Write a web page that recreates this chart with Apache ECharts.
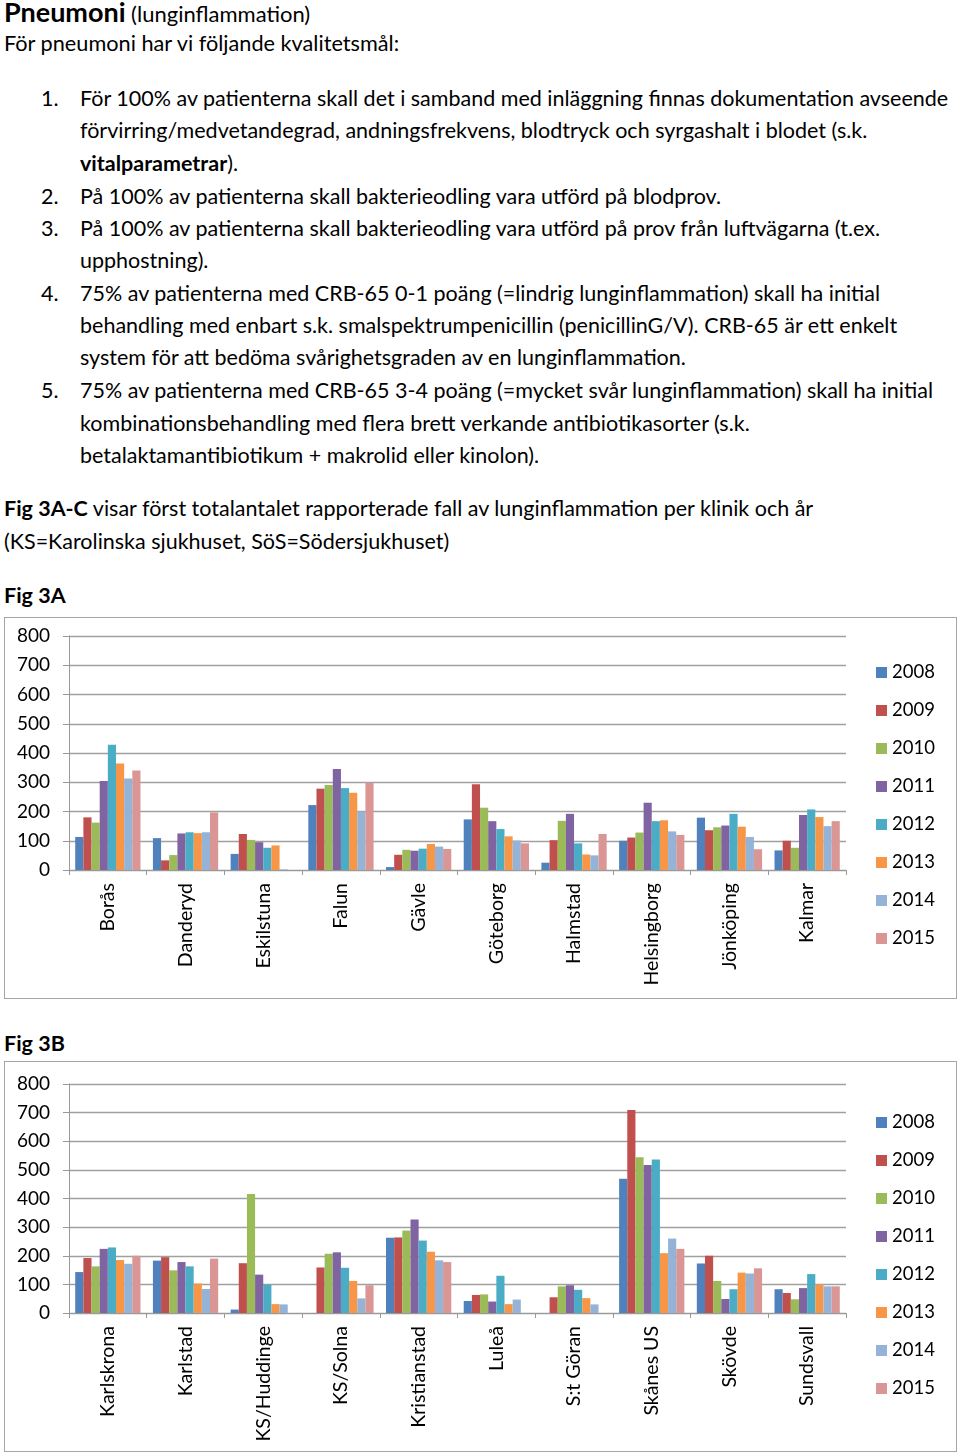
<!DOCTYPE html>
<html><head><meta charset="utf-8">
<script src="https://cdn.jsdelivr.net/npm/echarts@6/dist/echarts.min.js"></script>
<style>
html,body{margin:0;padding:0;background:#fff;}
body{width:960px;height:1456px;position:relative;overflow:hidden;font-family:Lato,"Noto Sans",sans-serif;color:#000;}
.t{position:absolute;white-space:nowrap;line-height:30px;height:30px;font-size:21.5px;}
.n{position:absolute;white-space:nowrap;line-height:30px;height:30px;font-size:21.5px;left:41px;}
b{font-weight:700;}
.box{position:absolute;left:4px;width:951px;border:1.5px solid #a6a6a6;}
</style></head><body>
<div class="t" style="left:4px;top:-3px;"><b style="font-size:27px;">Pneumoni</b> <span style="font-size:22px;">(lunginflammation)</span></div>
<div class="t" style="left:4px;top:28px;font-size:21.7px;">För pneumoni har vi följande kvalitetsmål:</div>

<div class="n" style="top:83px;">1.</div>
<div class="t" style="left:80px;top:83px;">För 100% av patienterna skall det i samband med inläggning finnas dokumentation avseende</div>
<div class="t" style="left:80px;top:115px;">förvirring/medvetandegrad, andningsfrekvens, blodtryck och syrgashalt i blodet (s.k.</div>
<div class="t" style="left:80px;top:148px;"><b>vitalparametrar</b>).</div>
<div class="n" style="top:181px;">2.</div>
<div class="t" style="left:80px;top:181px;">På 100% av patienterna skall bakterieodling vara utförd på blodprov.</div>
<div class="n" style="top:213px;">3.</div>
<div class="t" style="left:80px;top:213px;">På 100% av patienterna skall bakterieodling vara utförd på prov från luftvägarna (t.ex.</div>
<div class="t" style="left:80px;top:245px;">upphostning).</div>
<div class="n" style="top:278px;">4.</div>
<div class="t" style="left:80px;top:278px;">75% av patienterna med CRB-65 0-1 poäng (=lindrig lunginflammation) skall ha initial</div>
<div class="t" style="left:80px;top:310px;">behandling med enbart s.k. smalspektrumpenicillin (penicillinG/V). CRB-65 är ett enkelt</div>
<div class="t" style="left:80px;top:342px;">system för att bedöma svårighetsgraden av en lunginflammation.</div>
<div class="n" style="top:375px;">5.</div>
<div class="t" style="left:80px;top:375px;">75% av patienterna med CRB-65 3-4 poäng (=mycket svår lunginflammation) skall ha initial</div>
<div class="t" style="left:80px;top:408px;">kombinationsbehandling med flera brett verkande antibiotikasorter (s.k.</div>
<div class="t" style="left:80px;top:440px;">betalaktamantibiotikum + makrolid eller kinolon).</div>

<div class="t" style="left:4px;top:493px;"><b>Fig 3A-C</b> visar först totalantalet rapporterade fall av lunginflammation per klinik och år</div>
<div class="t" style="left:4px;top:526px;">(KS=Karolinska sjukhuset, SöS=Södersjukhuset)</div>
<div class="t" style="left:4px;top:580px;"><b>Fig 3A</b></div>
<div class="t" style="left:4px;top:1028px;"><b>Fig 3B</b></div>

<div id="c1" class="box" style="top:617px;height:380px;"></div>
<div id="c2" class="box" style="top:1061px;height:389px;"></div>

<script>
// ---- Data ----
var years = ['2008','2009','2010','2011','2012','2013','2014','2015'];
var colors = ['#4F81BD','#C0504D','#9BBB59','#8064A2','#4BACC6','#F79646','#95B3D7','#D99694'];
var yTicks = [0,100,200,300,400,500,600,700,800];

var catsA = ['Borås','Danderyd','Eskilstuna','Falun','Gävle','Göteborg','Halmstad','Helsingborg','Jönköping','Kalmar'];
var a2008 = [113,109,55,222,10,173,25,100,179,67];
var a2009 = [180,33,123,278,52,293,102,111,136,100];
var a2010 = [162,51,103,291,69,213,168,128,146,76];
var a2011 = [304,125,95,345,66,167,192,230,152,188];
var a2012 = [428,129,76,280,73,140,91,167,192,207];
var a2013 = [364,126,84,264,89,115,53,170,148,181];
var a2014 = [313,129,2,200,80,101,50,132,113,150];
var a2015 = [340,197,0,298,72,91,123,120,71,167];

var catsB = ['Karlskrona','Karlstad','KS/Huddinge','KS/Solna','Kristianstad','Luleå','S:t Göran','Skånes US','Skövde','Sundsvall'];
var b2008 = [143,183,12,0,263,42,0,469,173,83];
var b2009 = [192,195,174,159,264,63,55,709,200,70];
var b2010 = [163,149,416,207,288,65,93,544,112,48];
var b2011 = [224,178,134,212,327,40,97,517,49,87];
var b2012 = [229,163,99,158,253,130,81,536,83,136];
var b2013 = [185,103,31,112,214,31,52,209,141,100];
var b2014 = [172,84,30,51,184,47,30,260,138,93];
var b2015 = [200,190,0,97,178,0,0,224,156,93];

var seriesA = [a2008,a2009,a2010,a2011,a2012,a2013,a2014,a2015];
var seriesB = [b2008,b2009,b2010,b2011,b2012,b2013,b2014,b2015];

var FONT = 'Lato, "Noto Sans", sans-serif';

function makeOption(cats, seriesData, gridTop, gridHeight, legendTop) {
  return {
    animation: false,
    color: colors,
    textStyle: {fontFamily: FONT},
    grid: {left: 64, top: gridTop, width: 777, height: gridHeight, containLabel: false, outerBoundsMode: 'none'},
    legend: {
      orient: 'vertical', left: 866, top: legendTop,
      itemWidth: 11, itemHeight: 11, itemGap: 19,
      icon: 'rect',
      textStyle: {fontSize: 18.5, fontFamily: FONT, color: '#000', lineHeight: 19},
      data: years
    },
    xAxis: {
      type: 'category', data: cats,
      axisLine: {show: true, lineStyle: {color: '#999', width: 1}},
      axisTick: {show: true, length: 5, lineStyle: {color: '#999'}},
      axisLabel: {rotate: 90, margin: 13, fontSize: 19.5, fontFamily: FONT, color: '#000', interval: 0}
    },
    yAxis: {
      type: 'value', min: yTicks[0], max: yTicks[yTicks.length-1], interval: yTicks[1]-yTicks[0],
      axisLine: {show: true, lineStyle: {color: '#999', width: 1}},
      axisTick: {show: true, length: 6, lineStyle: {color: '#999'}},
      splitLine: {show: true, lineStyle: {color: '#a0a0a0', width: 1.3}},
      axisLabel: {margin: 19, fontSize: 19, fontFamily: FONT, color: '#000'}
    },
    series: seriesData.map(function(d, i){
      return {name: years[i], type: 'bar', data: d, barGap: '0%', barCategoryGap: '16%'};
    })
  };
}

var c1 = echarts.init(document.getElementById('c1'), null, {renderer: 'canvas'});
c1.setOption(makeOption(catsA, seriesA, 18, 234, 40));
var c2 = echarts.init(document.getElementById('c2'), null, {renderer: 'canvas'});
c2.setOption(makeOption(catsB, seriesB, 22, 229, 46));
</script>
</body></html>
